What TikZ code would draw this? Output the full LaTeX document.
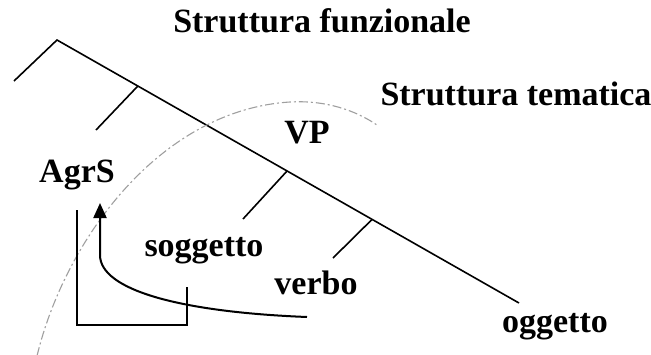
\documentclass[tikz,border=0pt]{standalone}
\usepackage{fontspec}
\setmainfont{Liberation Serif}
\usetikzlibrary{arrows.meta,positioning,calc}

\begin{document}
\begin{tikzpicture}[x=1pt, y=-1pt,
    lbl/.style={font=\fontsize{34}{40}\selectfont\bfseries, inner sep=0pt, anchor=base},
    branch/.style={line width=1.6pt},
    bracket/.style={line width=2.6pt},
    arr/.style={-{Triangle[length=15pt,width=13pt]}, line width=2pt},
    theta/.style={gray!75, line width=1.1pt, dash pattern=on 9pt off 3pt on 2pt off 3pt}]

    \useasboundingbox (0,0) rectangle (651,354);

    % labels
    \node[lbl] (funz) at (322,32) {Struttura funzionale};
    \node[lbl] (tema) at (516,105) {Struttura tematica};
    \node[lbl] (vp) at (307,143) {VP};
    \node[lbl] (agrs) at (77,182) {AgrS};
    \node[lbl] (sogg) at (204,256) {soggetto};
    \node[lbl] (verbo) at (316,294) {verbo};
    \node[lbl] (ogg) at (555,332) {oggetto};

    % tree
    \coordinate (apex) at (57,40);
    \coordinate (leftend) at (14,81);
    \coordinate (tail) at (519,303);
    \coordinate (b1) at ($(apex)!0.175!(tail)$);
    \coordinate (b2) at ($(apex)!0.498!(tail)$);
    \coordinate (b3) at ($(apex)!0.682!(tail)$);
    \coordinate (s1) at (96,130);
    \coordinate (s2) at (243,219);
    \coordinate (s3) at (333,258);

    \draw[branch] (leftend) -- (apex) -- (tail);
    \draw[branch] (b1) -- (s1);
    \draw[branch] (b2) -- (s2);
    \draw[branch] (b3) -- (s3);

    % thematic domain
    \draw[theta] (37,356) .. controls (65,240) and (160,110) .. (290,102)
        .. controls (325,100) and (355,110) .. (377,125);

    % movement
    \coordinate (brtop) at (77,210);
    \coordinate (brend) at (187,287);
    \draw[bracket] (brtop) |- (brend |- 0,325) -- (brend);

    \coordinate (arrstart) at (307,317);
    \coordinate (arrtip) at (100,203);
    \draw[arr] (arrstart) .. controls (180,312) and (100,290) .. (100,255) -- (arrtip);
\end{tikzpicture}
\end{document}
